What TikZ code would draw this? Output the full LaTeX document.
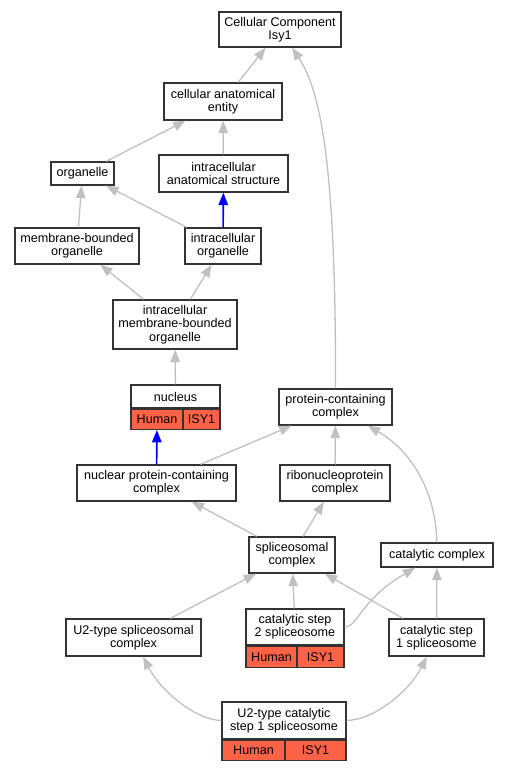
\documentclass[tikz,border=0pt]{standalone}
\usepackage{fontspec}
\setmainfont{Liberation Sans}
\usepackage{tikz}
\usetikzlibrary{positioning,arrows.meta}

\definecolor{hitred}{RGB}{255,99,71}
\definecolor{edgegray}{RGB}{192,192,192}

\begin{document}
\begin{tikzpicture}[x=1pt,y=-1pt,
		font=\fontsize{12.6}{13.3}\selectfont,
		box/.style={draw=black!80,line width=1.3pt,fill=white,align=center,inner sep=0pt},
		hit/.style={box,fill=hitred},
		isa/.style={draw=edgegray,line width=1.3pt,-{Triangle[length=12.5pt,width=9.5pt]}},
		partof/.style={draw=blue,line width=1.6pt,-{Triangle[length=12.5pt,width=9.5pt]}}]
		\useasboundingbox (0,0) rectangle (509,771);
		
		\node[box,minimum width=122,minimum height=35] (cc) at (280,29.5) {Cellular Component\\Isy1};
		\node[box,minimum width=118,minimum height=37] (cae) at (223,101.5) {cellular anatomical\\entity};
		
		\node[box,minimum width=63,minimum height=23] (org) at (82.5,173.5) {organelle};
		\node[box,minimum width=129,minimum height=37] (ias) at (223.5,173.5) {intracellular\\anatomical structure};
		
		\node[box,minimum width=124,minimum height=36] (mbo) at (77,246) {membrane-bounded\\organelle};
		\node[box,minimum width=76,minimum height=36] (io) at (223,246) {intracellular\\organelle};
		
		\node[box,minimum width=124,minimum height=49] (imbo) at (175,324.5) {intracellular\\membrane-bounded\\organelle};
		
		\node[box,minimum width=89,minimum height=23] (nuc) at (175.5,396.5) {nucleus};
		\node[hit,minimum width=52,minimum height=20,anchor=north west] (nucH) at (nuc.south west) {Human};
		\node[hit,minimum width=37,minimum height=20,anchor=north east] (nucI) at (nuc.south east) {ISY1};
		
		\node[box,minimum width=113,minimum height=36] (pcc) at (335.5,407) {protein-containing\\complex};
		
		\node[box,minimum width=159,minimum height=36] (npcc) at (156.5,483) {nuclear protein-containing\\complex};
		\node[box,minimum width=110,minimum height=36] (rnp) at (335,483) {ribonucleoprotein\\complex};
		
		\node[box,minimum width=86,minimum height=36] (spl) at (292,555) {spliceosomal\\complex};
		\node[box,minimum width=112,minimum height=24] (cat) at (437,555) {catalytic complex};
		
		\node[box,minimum width=135,minimum height=37] (u2) at (133.5,637.5) {U2-type spliceosomal\\complex};
		\node[box,minimum width=98,minimum height=36] (cs2) at (295,627) {catalytic step\\2 spliceosome};
		\node[hit,minimum width=51,minimum height=21,anchor=north west] (cs2H) at (cs2.south west) {Human};
		\node[hit,minimum width=47,minimum height=21,anchor=north east] (cs2I) at (cs2.south east) {ISY1};
		\node[box,minimum width=95,minimum height=37] (cs1) at (436.5,637.5) {catalytic step\\1 spliceosome};
		
		\node[box,minimum width=124,minimum height=37] (u2c) at (284,720.5) {U2-type catalytic\\step 1 spliceosome};
		\node[hit,minimum width=63,minimum height=20,anchor=north west] (u2cH) at (u2c.south west) {Human};
		\node[hit,minimum width=61,minimum height=20,anchor=north east] (u2cI) at (u2c.south east) {ISY1};
		
		\draw[isa] (cae) -- (cc);
		\draw[isa] (pcc) .. controls (336,160) and (320,90) .. (cc);
		\draw[isa] (org) -- (cae);
		\draw[isa] (ias) -- (cae);
		\draw[isa] (mbo) -- (org);
		\draw[isa] (io) -- (org);
		\draw[partof] (io) -- (ias);
		\draw[isa] (imbo) -- (mbo);
		\draw[isa] (imbo) -- (io);
		\draw[isa] (nuc) -- (imbo);
		\draw[partof] (npcc) -- (nucH);
		\draw[isa] (npcc) -- (pcc);
		\draw[isa] (rnp) -- (pcc);
		\draw[isa] (spl) -- (npcc);
		\draw[isa] (spl) -- (rnp);
		\draw[isa] (cat) .. controls (436,490) and (410,450) .. (pcc);
		\draw[isa] (u2) -- (spl);
		\draw[isa] (cs2) -- (spl);
		\draw[isa] (cs2.east) .. controls (358,627) and (360,600) .. (cat);
		\draw[isa] (cs1) -- (spl);
		\draw[isa] (cs1) -- (cat);
		\draw[isa] (u2c.west) .. controls (195,720) and (160,690) .. (u2);
		\draw[isa] (u2c.east) .. controls (375,720) and (410,690) .. (cs1);
\end{tikzpicture}
\end{document}
